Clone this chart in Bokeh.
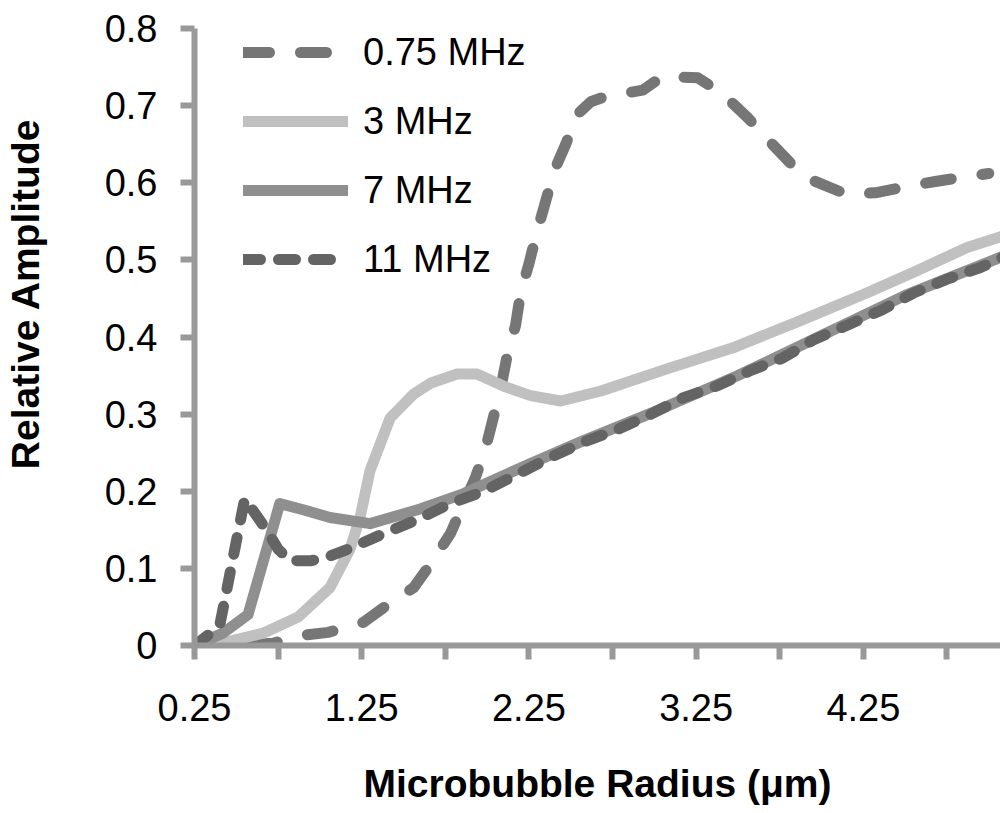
from bokeh.plotting import figure
from bokeh.models import Range1d, FixedTicker, Legend, LegendItem
from bokeh.embed import file_html
from bokeh.resources import INLINE

# ---------------- data ----------------
series_labels = ["0.75 MHz", "3 MHz", "7 MHz", "11 MHz"]

x_075 = [0.25, 0.50, 0.72, 0.88, 1.05, 1.26, 1.38, 1.56, 1.66, 1.72, 1.78, 1.93, 1.99,
         2.04, 2.09, 2.12, 2.17, 2.20, 2.25, 2.30, 2.35, 2.40, 2.47, 2.54, 2.62, 2.71,
         2.93, 3.05, 3.26, 3.41, 3.56, 3.67, 3.82, 3.96, 4.15, 4.32, 4.53, 4.69, 4.90, 5.00]
y_075 = [0.0, 0.0, 0.003, 0.013, 0.017, 0.030, 0.049, 0.075, 0.105, 0.125, 0.145, 0.218, 0.255,
         0.298, 0.343, 0.376, 0.415, 0.457, 0.495, 0.538, 0.576, 0.615, 0.650, 0.689, 0.705, 0.712,
         0.720, 0.738, 0.736, 0.715, 0.684, 0.658, 0.624, 0.602, 0.585, 0.587, 0.596, 0.602, 0.609, 0.612]

x_3 = [0.25, 0.45, 0.66, 0.87, 1.06, 1.18, 1.24, 1.30, 1.42, 1.56, 1.66, 1.82, 1.94, 2.10,
       2.26, 2.44, 2.68, 3.08, 3.47, 3.87, 4.27, 4.57, 4.87, 5.10]
y_3 = [0.0, 0.005, 0.016, 0.037, 0.075, 0.125, 0.166, 0.227, 0.295, 0.326, 0.340, 0.352, 0.352, 0.336,
       0.324, 0.317, 0.330, 0.359, 0.386, 0.421, 0.457, 0.486, 0.516, 0.532]

x_7 = [0.25, 0.42, 0.57, 0.76, 0.90, 1.06, 1.30, 1.60, 1.86, 2.26, 2.58, 3.00, 3.50, 4.00, 4.50, 5.10]
y_7 = [0.0, 0.016, 0.040, 0.184, 0.176, 0.166, 0.158, 0.177, 0.197, 0.236, 0.266, 0.303, 0.350,
       0.402, 0.454, 0.506]

x_11 = [0.25, 0.40, 0.55, 0.60, 0.68, 0.75, 0.82, 0.95, 1.05, 1.18, 1.38, 1.58, 1.78, 1.98, 2.18,
        2.38, 2.58, 2.78, 2.98, 3.17, 3.38, 3.57, 3.77, 3.95, 4.15, 4.35, 4.55, 4.75, 4.95, 5.10]
y_11 = [0.0, 0.025, 0.190, 0.175, 0.150, 0.125, 0.110, 0.110, 0.115, 0.126, 0.145, 0.163, 0.184, 0.200,
        0.222, 0.244, 0.264, 0.280, 0.300, 0.321, 0.337, 0.356, 0.373, 0.396, 0.415, 0.434, 0.457,
        0.475, 0.490, 0.505]

x_ticks = [0.25, 1.25, 2.25, 3.25, 4.25]
x_tick_labels = ["0.25", "1.25", "2.25", "3.25", "4.25"]
x_minor_ticks = [0.75, 1.75, 2.75, 3.75, 4.75]
y_ticks = [0, 0.1, 0.2, 0.3, 0.4, 0.5, 0.6, 0.7, 0.8]
y_tick_labels = ["0", "0.1", "0.2", "0.3", "0.4", "0.5", "0.6", "0.7", "0.8"]

x_title = "Microbubble Radius (\u03bcm)"
y_title = "Relative Amplitude"

# ---------------- figure ----------------
FONT = "Liberation Sans"
AXIS_COL = "#999999"

p = figure(width=1000, height=813, output_backend="svg", toolbar_location=None,
           x_range=Range1d(0.25, 5.07), y_range=Range1d(0, 0.8),
           min_border_left=194, min_border_right=0, min_border_top=28, min_border_bottom=168)
p.grid.visible = False
p.outline_line_color = None
p.background_fill_color = "white"
p.border_fill_color = "white"

common = dict(line_width=11, line_cap="round", line_join="round")
r075 = p.line(x_075, y_075, line_color="#767676", line_dash="26 31", **common)
r3 = p.line(x_3, y_3, line_color="#c0c0c0", **common)
r7 = p.line(x_7, y_7, line_color="#8f8f8f", **common)
r11 = p.line(x_11, y_11, line_color="#646464", line_dash="17 18", **common)

# axes
p.xaxis.ticker = FixedTicker(ticks=x_ticks, minor_ticks=x_minor_ticks)
p.xaxis.major_label_overrides = dict(zip(x_ticks, x_tick_labels))
p.yaxis.ticker = FixedTicker(ticks=y_ticks)
p.yaxis.major_label_overrides = dict(zip(y_ticks, y_tick_labels))

for ax in (p.xaxis[0], p.yaxis[0]):
    ax.axis_line_color = AXIS_COL
    ax.axis_line_width = 6
    ax.major_tick_line_color = AXIS_COL
    ax.major_tick_line_width = 6
    ax.major_tick_out = 14
    ax.major_tick_in = 0
    ax.major_label_text_font = FONT
    ax.major_label_text_font_size = "38px"
    ax.major_label_text_color = "black"
    ax.axis_label_text_font = FONT
    ax.axis_label_text_font_size = "39px"
    ax.axis_label_text_font_style = "bold"
    ax.axis_label_text_color = "black"

p.xaxis.minor_tick_line_color = AXIS_COL
p.xaxis.minor_tick_line_width = 6
p.xaxis.minor_tick_out = 14
p.xaxis.minor_tick_in = 0
p.yaxis.minor_tick_line_color = None
p.xaxis.major_label_standoff = 34
p.yaxis.major_label_standoff = 23

# axis titles (the y title sits above the frame centre in the reference)
p.xaxis.axis_label = x_title
p.xaxis.axis_label_standoff = 38
p.yaxis.axis_label = "\u00a0" * 8 + y_title
p.yaxis.axis_label_standoff = 55

# legend
legend = Legend(items=[LegendItem(label=series_labels[0], renderers=[r075]),
                       LegendItem(label=series_labels[1], renderers=[r3]),
                       LegendItem(label=series_labels[2], renderers=[r7]),
                       LegendItem(label=series_labels[3], renderers=[r11])],
                location=(49, 356), glyph_width=105, glyph_height=60, label_height=60,
                label_standoff=15, spacing=9, padding=0, margin=0,
                border_line_color=None, background_fill_alpha=0,
                label_text_font=FONT, label_text_font_size="38px", label_text_color="black")
p.add_layout(legend)

open("out.html", "w").write(file_html(p, INLINE))
